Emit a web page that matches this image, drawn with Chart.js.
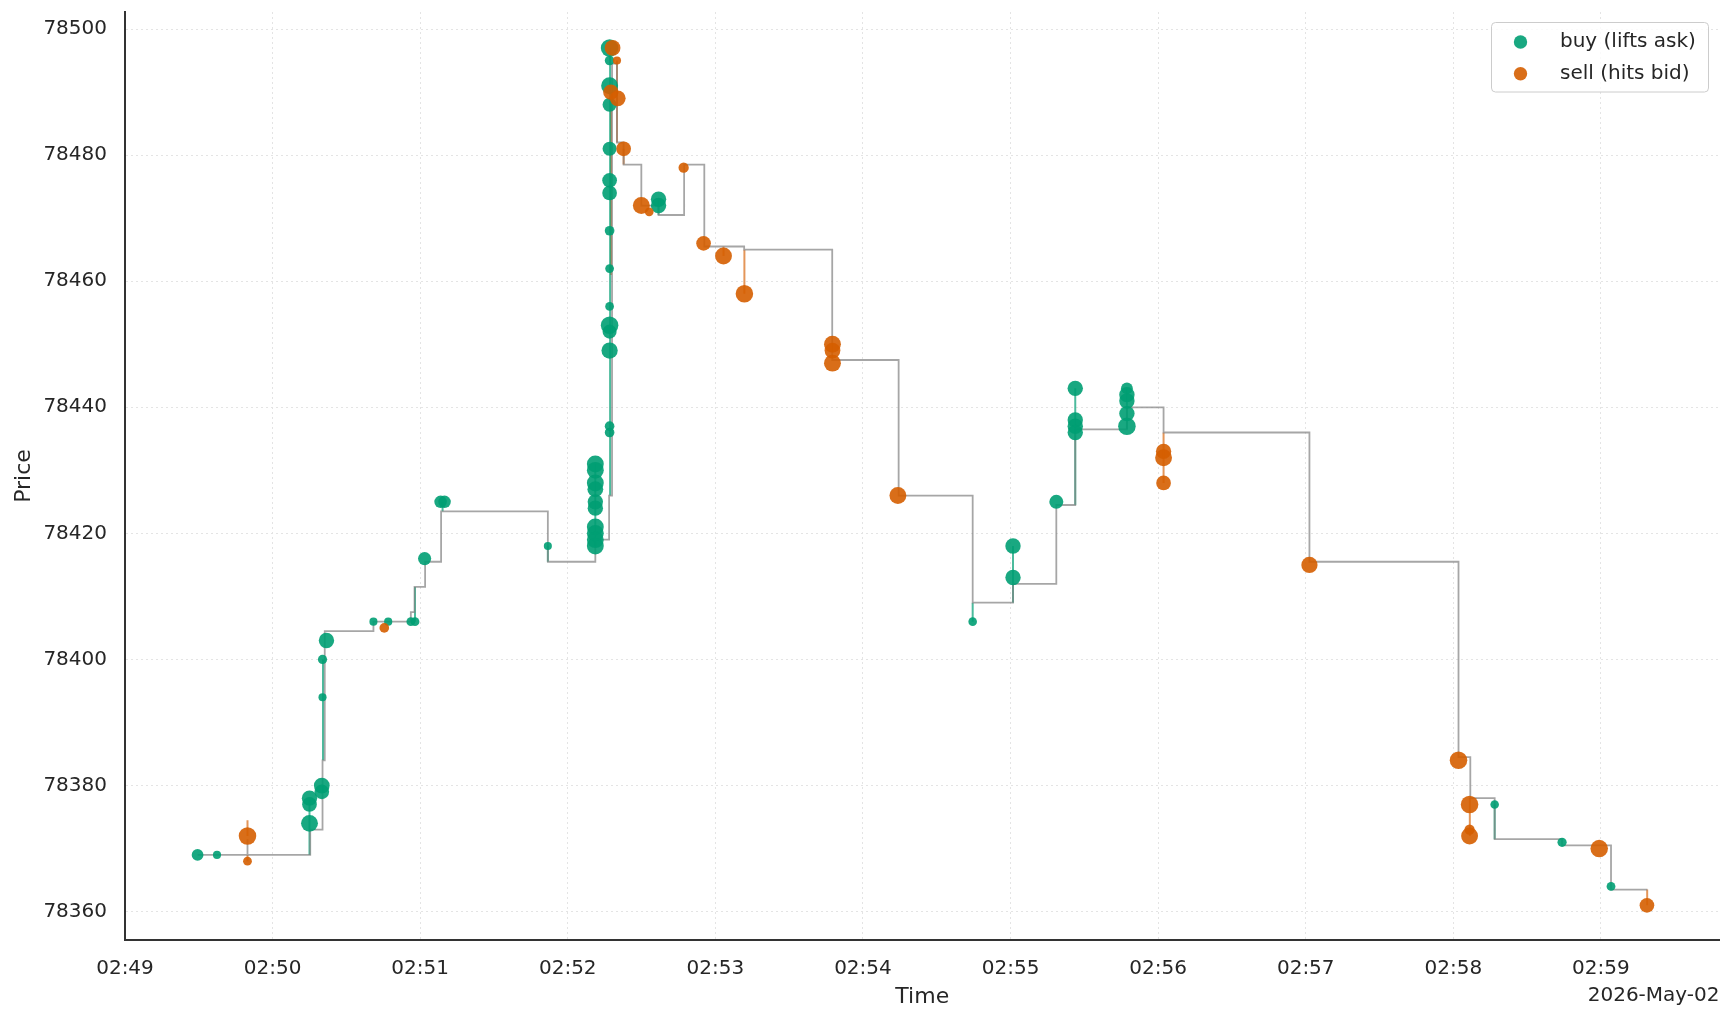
<!DOCTYPE html>
<html>
<head>
<meta charset="utf-8">
<script src="https://cdn.jsdelivr.net/npm/chart.js@4.4.1/dist/chart.umd.min.js"></script>
<style>
  html, body { margin: 0; padding: 0; background: #ffffff; }
  #wrap { width: 1732px; height: 1022px; }
</style>
</head>
<body>
<div id="wrap"><canvas id="c" width="1732" height="1022"></canvas></div>
<script>
// ---- data (time = seconds after 02:49:00 on 2026-May-02) ----
const dateLabel = '2026-May-02';
const seriesNames = ['buy (lifts ask)', 'sell (hits bid)'];
const timeTickLabels = ['02:49', '02:50', '02:51', '02:52', '02:53', '02:54', '02:55', '02:56', '02:57', '02:58', '02:59'];
const priceTicks = [78360, 78380, 78400, 78420, 78440, 78460, 78480, 78500];

const buyTime = [29.5, 37.4, 75.0, 75.0, 75.0, 80.0, 80.0, 80.3, 80.3, 81.9,
  101.0, 107.0, 116.2, 117.9, 121.8, 128.3, 129.9, 171.9,
  191.2, 191.2, 191.2, 191.2, 191.2, 191.2, 191.2, 191.2, 191.2, 191.2,
  197.0, 197.0, 197.0, 197.0, 197.0, 197.0, 197.0, 197.0, 197.0, 197.0, 197.0, 197.0, 197.0, 197.0, 197.0,
  216.9, 216.9, 344.6, 361.0, 361.0, 378.6, 386.3, 386.3, 386.3, 386.3,
  407.3, 407.3, 407.3, 407.3, 407.3, 556.8, 584.2, 604.1];
const buyPrice = [78369, 78369, 78378, 78377, 78374, 78380, 78379, 78394, 78400, 78403,
  78406, 78406, 78406, 78406, 78416, 78425, 78425, 78418,
  78431, 78430, 78428, 78427, 78425, 78424, 78421, 78420, 78419, 78418,
  78497, 78495, 78491, 78488, 78481, 78476, 78474, 78468, 78462, 78456, 78453, 78452, 78449, 78437, 78436,
  78473, 78472, 78406, 78418, 78413, 78425, 78443, 78438, 78437, 78436,
  78443, 78442, 78441, 78439, 78437, 78377, 78371, 78364];
const buyQty = [0.19, 0.01, 0.58, 0.49, 0.81, 0.64, 0.49, 0.01, 0.04, 0.58,
  0.01, 0.012, 0.026, 0.026, 0.31, 0.25, 0.25, 0.01,
  0.81, 0.81, 0.81, 0.64, 0.58, 0.58, 0.81, 0.81, 0.81, 0.81,
  0.92, 0.058, 0.81, 0.41, 0.41, 0.49, 0.49, 0.058, 0.026, 0.026, 0.92, 0.41, 0.71, 0.058, 0.058,
  0.58, 0.58, 0.02, 0.58, 0.58, 0.41, 0.58, 0.58, 0.58, 0.58,
  0.19, 0.58, 0.58, 0.58, 0.92, 0.02, 0.04, 0.026];

const sellTime = [49.8, 49.8, 105.4, 197.5, 198.2, 200.0, 200.3, 202.7, 209.9, 213.1,
  227.1, 235.2, 243.3, 251.8, 287.6, 287.6, 287.6, 314.2, 422.2, 422.2, 422.2,
  481.5, 542.1, 546.6, 546.6, 546.6, 599.3, 618.7];
const sellPrice = [78372, 78368, 78405, 78490, 78497, 78495, 78489, 78481, 78472, 78471,
  78478, 78466, 78464, 78458, 78450, 78449, 78447, 78426, 78433, 78432, 78428,
  78415, 78384, 78377, 78373, 78372, 78370, 78361];
const sellQty = [0.92, 0.026, 0.058, 0.58, 0.64, 0.01, 0.64, 0.49, 0.81, 0.026,
  0.09, 0.49, 0.81, 0.92, 0.81, 0.64, 0.81, 0.81, 0.58, 0.81, 0.49,
  0.71, 0.92, 0.92, 0.09, 0.81, 0.92, 0.49];

// mid price (step, value holds until next change)
const midTime = [29.5, 49.8, 49.8, 75.3, 80.3, 81.2, 101.0, 116.2, 117.7, 122.0, 128.5,
  171.9, 191.2, 196.8, 198.0, 200.0, 202.7, 209.9, 216.9, 227.3, 235.5, 251.7,
  287.5, 314.5, 344.6, 361.0, 378.6, 386.3, 407.3, 422.2, 481.5, 542.1, 546.9,
  556.8, 584.2, 604.1, 618.9];
const midPrice = [78369, 78371.5, 78369, 78373, 78384, 78404.5, 78406, 78407.5, 78411.5, 78415.5, 78423.5,
  78415.5, 78419, 78426, 78494.5, 78482, 78478.5, 78472, 78470.5, 78478.5, 78465.5, 78465,
  78447.5, 78426, 78409, 78412, 78424.5, 78436.5, 78440, 78436, 78415.5, 78384.5, 78378,
  78371.5, 78370.5, 78363.5, 78363.5];

// trade-to-mid links
const buyLinkTime = [75.0, 80.5, 80.5, 117.9, 129.1, 171.9, 191.2, 197.2, 197.2, 216.9, 344.6, 361.0, 386.3, 407.3, 556.8];
const buyLinkFrom = [78369, 78384, 78384, 78406, 78423.5, 78415.5, 78418, 78426, 78437, 78470.5, 78406, 78409, 78424.5, 78436.5, 78371.5];
const buyLinkTo = [78378, 78400, 78394, 78411.5, 78425, 78418, 78431, 78497, 78462, 78473, 78409, 78418, 78443, 78443, 78377];
const sellLinkTime = [49.8, 49.8, 197.6, 200.0, 202.7, 243.3, 251.8, 422.2, 546.7, 618.8];
const sellLinkFrom = [78372, 78368, 78461, 78482, 78478.5, 78464, 78458, 78428, 78372, 78361];
const sellLinkTo = [78374.5, 78369, 78490, 78495, 78481, 78465.5, 78465, 78436, 78378, 78363.5];

// ---- helpers ----
const X_MIN = 0, X_MAX = 648.2, Y_MIN = 78355.5, Y_MAX = 78502.7;
const GREEN = 'rgba(0,158,115,0.9)';
const ORANGE = 'rgba(213,94,0,0.9)';
const radius = q => 3.5 + 5.5 * Math.sqrt(q);
const pts = (xs, ys) => xs.map((x, i) => ({ x: x, y: ys[i] }));
const links = (t, a, b) => t.flatMap((x, i) => [{ x: x, y: a[i] }, { x: x, y: b[i] }, { x: x, y: null }]);
const tickSeconds = timeTickLabels.map(s => (parseInt(s.split(':')[1], 10) - 49) * 60);

Chart.defaults.font.family = '"DejaVu Sans", sans-serif';
Chart.defaults.color = '#262626';

const decor = {
  id: 'decor',
  afterDraw(chart) {
    const { ctx, chartArea } = chart;
    ctx.save();
    // date offset label
    ctx.font = '20px "DejaVu Sans"';
    ctx.fillStyle = '#262626';
    ctx.textAlign = 'right';
    ctx.textBaseline = 'middle';
    ctx.fillText(dateLabel, chartArea.right, chart.height - 26.5);
    // legend box
    const bw = 217, bh = 69.5;
    const bx = chartArea.right - 228, by = chartArea.top + 10.5, r = 4;
    ctx.beginPath();
    ctx.moveTo(bx + r, by);
    ctx.lineTo(bx + bw - r, by);
    ctx.quadraticCurveTo(bx + bw, by, bx + bw, by + r);
    ctx.lineTo(bx + bw, by + bh - r);
    ctx.quadraticCurveTo(bx + bw, by + bh, bx + bw - r, by + bh);
    ctx.lineTo(bx + r, by + bh);
    ctx.quadraticCurveTo(bx, by + bh, bx, by + bh - r);
    ctx.lineTo(bx, by + r);
    ctx.quadraticCurveTo(bx, by, bx + r, by);
    ctx.closePath();
    ctx.fillStyle = 'rgba(255,255,255,0.8)';
    ctx.fill();
    ctx.lineWidth = 1;
    ctx.strokeStyle = '#cccccc';
    ctx.stroke();
    const items = [
      { text: chart.data.datasets[1].label, color: chart.data.datasets[1].backgroundColor },
      { text: chart.data.datasets[0].label, color: chart.data.datasets[0].backgroundColor }
    ];
    items.forEach((it, i) => {
      const cy = by + 19.5 + i * 31.7;
      ctx.beginPath();
      ctx.arc(bx + 29, cy, 6.7, 0, Math.PI * 2);
      ctx.fillStyle = it.color;
      ctx.fill();
      ctx.fillStyle = '#262626';
      ctx.textAlign = 'left';
      ctx.textBaseline = 'middle';
      ctx.font = '20px "DejaVu Sans"';
      ctx.fillText(it.text, bx + 68.5, cy);
    });
    ctx.restore();
  }
};

new Chart(document.getElementById('c'), {
  type: 'scatter',
  data: {
    datasets: [
      { label: seriesNames[1], data: pts(sellTime, sellPrice), backgroundColor: ORANGE,
        borderWidth: 0, pointRadius: sellQty.map(radius), pointHoverRadius: sellQty.map(radius) },
      { label: seriesNames[0], data: pts(buyTime, buyPrice), backgroundColor: GREEN,
        borderWidth: 0, pointRadius: buyQty.map(radius), pointHoverRadius: buyQty.map(radius) },
      { type: 'line', label: 'mid', data: pts(midTime, midPrice), stepped: true, showLine: true,
        borderColor: 'rgba(128,128,128,0.7)', borderWidth: 1.8, pointRadius: 0, fill: false },
      { type: 'line', label: 'buy links', data: links(buyLinkTime, buyLinkFrom, buyLinkTo), showLine: true,
        spanGaps: false, borderColor: 'rgba(0,158,115,0.7)', borderWidth: 2, pointRadius: 0, fill: false },
      { type: 'line', label: 'sell links', data: links(sellLinkTime, sellLinkFrom, sellLinkTo), showLine: true,
        spanGaps: false, borderColor: 'rgba(213,94,0,0.65)', borderWidth: 2, pointRadius: 0, fill: false }
    ]
  },
  options: {
    responsive: false,
    animation: false,
    devicePixelRatio: 1,
    events: [],
    layout: { padding: { top: 12, right: 12.5, left: 0, bottom: 0 } },
    plugins: { legend: { display: false }, tooltip: { enabled: false } },
    scales: {
      x: {
        type: 'linear', min: X_MIN, max: X_MAX,
        afterFit: s => { s.height = 82; s.paddingLeft = 0; s.paddingRight = 0; },
        afterBuildTicks: s => { s.ticks = tickSeconds.map(v => ({ value: v })); },
        ticks: { autoSkip: false, maxRotation: 0, padding: 16.5, font: { size: 20 }, color: '#262626',
          callback: (v, i) => timeTickLabels[i] },
        grid: { color: '#e4e4e4', lineWidth: 1, drawTicks: false },
        border: { display: true, color: '#333333', width: 2, dash: [2, 3] },
        title: { display: true, text: 'Time', font: { size: 22 }, color: '#262626', padding: { top: 0, bottom: 12 } }
      },
      y: {
        type: 'linear', min: Y_MIN, max: Y_MAX,
        afterFit: s => { s.width = 125; s.paddingTop = 0; s.paddingBottom = 0; },
        afterBuildTicks: s => { s.ticks = priceTicks.map(v => ({ value: v })); },
        ticks: { padding: 18, font: { size: 20 }, color: '#262626', callback: v => String(v) },
        grid: { color: '#e4e4e4', lineWidth: 1, drawTicks: false },
        border: { display: true, color: '#333333', width: 2, dash: [2, 3] },
        title: { display: true, text: 'Price', font: { size: 22 }, color: '#262626', padding: { top: 11, bottom: 0 } }
      }
    }
  },
  plugins: [decor]
});
</script>
</body>
</html>
